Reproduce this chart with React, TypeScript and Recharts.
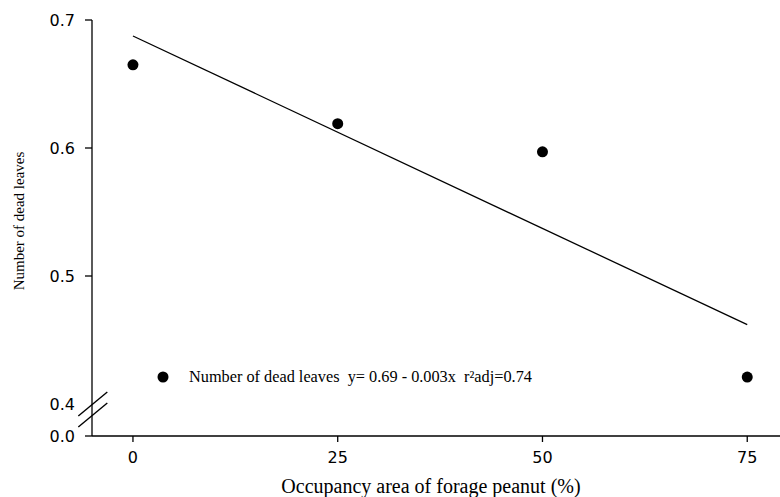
import React from 'react';
import { ScatterChart, Scatter, XAxis, YAxis, Legend } from 'recharts';

// Data
const occupancy = [0, 25, 50, 75];
const deadLeaves = [0.665, 0.619, 0.597, 0.421];
const fitX = [0, 75];
const fitY = [0.6875, 0.462];
const xTicks = [0, 25, 50, 75];
// broken axis: the value 0.0 is drawn at the bottom, just under the break at 0.4
const yTicks = [0.375, 0.4, 0.5, 0.6, 0.7];
const yTickLabels = ['0.0', '0.4', '0.5', '0.6', '0.7'];
const yLabel = 'Number of dead leaves';
const xLabel = 'Occupancy area of forage peanut (%)';
const legendText = 'Number of dead leaves  y= 0.69 - 0.003x  r\u00B2adj=0.74';

const points = occupancy.map((x, i) => ({ x, y: deadLeaves[i] }));
const fitLine = fitX.map((x, i) => ({ x, y: fitY[i] }));

const SANS = '"DejaVu Sans", Verdana, sans-serif';
const SERIF = '"Liberation Serif", "Times New Roman", serif';

const YTick = (props: any) => {
  const { x, y, payload } = props;
  const v = payload.value as number;
  const idx = yTicks.findIndex((t) => Math.abs(t - v) < 1e-9);
  const label = idx >= 0 ? yTickLabels[idx] : String(v);
  const axisX = x + 17;
  const isBreak = Math.abs(v - 0.4) < 1e-9;
  return (
    <g>
      {!isBreak && <line x1={axisX - 7} x2={axisX} y1={y} y2={y} stroke="#000" strokeWidth={1.3} />}
      {isBreak && (
        <g stroke="#000" strokeWidth={1.4}>
          <line x1={axisX - 13.7} y1={y + 12} x2={axisX + 15.3} y2={y - 12} />
          <line x1={axisX - 13.7} y1={y + 23} x2={axisX + 15.3} y2={y - 1} />
        </g>
      )}
      <text x={x} y={y} dy="0.36em" textAnchor="end" fontFamily={SANS} fontSize={16} fill="#000">
        {label}
      </text>
    </g>
  );
};

const Dot = (props: any) => {
  const { cx, cy } = props;
  return <circle cx={cx} cy={cy} r={5.5} fill="#000" />;
};

const NoDot = () => <g />;

const LegendContent = () => (
  <div style={{ display: 'flex', alignItems: 'center', whiteSpace: 'pre' }}>
    <svg width={12} height={12} style={{ display: 'block' }}>
      <circle cx={6} cy={6} r={5.5} fill="#000" />
    </svg>
    <span style={{ marginLeft: 20, fontFamily: SERIF, fontSize: 16.3, color: '#000', lineHeight: '20px' }}>
      {legendText}
    </span>
  </div>
);

export default function App() {
  return (
    <div style={{ position: 'absolute', left: 0, top: 0, width: 780, height: 497, overflow: 'hidden', background: '#fff' }}>
      <ScatterChart width={780} height={497} margin={{ top: 20, right: 0, bottom: 0, left: 0 }}>
        <XAxis
          type="number"
          dataKey="x"
          domain={[-5, 79]}
          ticks={xTicks}
          tickSize={6}
          tickMargin={10}
          height={61}
          stroke="#000"
          strokeWidth={1.3}
          tick={{ fill: '#000', fontFamily: SANS, fontSize: 16 }}
          tickLine={{ stroke: '#000', strokeWidth: 1.3 }}
          label={{
            content: (p: any) => {
              const vb = p.viewBox || { x: 92, y: 436, width: 688 };
              return (
                <text x={vb.x + vb.width / 2 - 5} y={vb.y + 57} textAnchor="middle" fontFamily={SERIF} fontSize={20} fill="#000">
                  {xLabel}
                </text>
              );
            },
          }}
        />
        <YAxis
          type="number"
          dataKey="y"
          domain={[0.375, 0.7]}
          ticks={yTicks}
          width={92}
          tickSize={7}
          tickMargin={10}
          tickLine={false}
          stroke="#000"
          strokeWidth={1.3}
          tick={<YTick />}
          interval={0}
          label={{
            content: () => (
              <text x={19} y={221} transform="rotate(-90 19 221)" textAnchor="middle" dominantBaseline="central" fontFamily={SERIF} fontSize={15} fill="#000">
                {yLabel}
              </text>
            ),
          }}
        />
        <Legend
          layout="horizontal"
          verticalAlign="middle"
          align="center"
          content={<LegendContent />}
          wrapperStyle={{ left: 157, top: 367, width: 'auto' }}
        />
        <Scatter
          name="fit"
          data={fitLine}
          line={{ stroke: '#000', strokeWidth: 1.3 }}
          shape={<NoDot />}
          isAnimationActive={false}
          legendType="none"
        />
        <Scatter name="Number of dead leaves" data={points} shape={<Dot />} isAnimationActive={false} />
      </ScatterChart>
    </div>
  );
}
